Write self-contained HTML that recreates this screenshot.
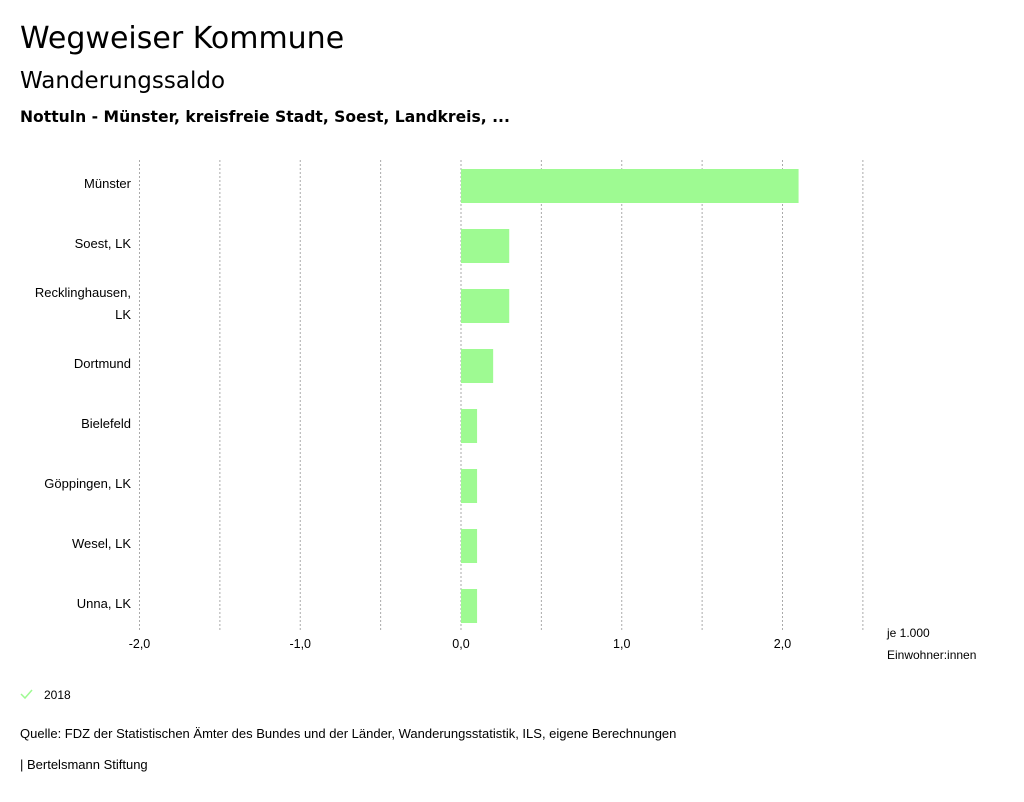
<!DOCTYPE html>
<html><head><meta charset="utf-8"><style>
body{margin:0;background:#fff;width:1024px;height:797px;overflow:hidden;font-family:"Liberation Sans",sans-serif;}
svg text{font-family:"Liberation Sans",sans-serif;}
svg text.t{font-family:"DejaVu Sans",sans-serif;}
</style></head><body>
<svg width="1024" height="797">
<text class="t" x="20" y="48" font-size="30" fill="#000">Wegweiser Kommune</text>
<text class="t" x="20" y="88" font-size="23" fill="#000">Wanderungssaldo</text>
<text class="t" x="20" y="122" font-size="15.6" font-weight="bold" fill="#000">Nottuln - Münster, kreisfreie Stadt, Soest, Landkreis, ...</text>
<g id="grid"></g><g id="bars"></g><g id="labels"></g><g id="ticks"></g>
<text x="887" y="637" font-size="12">je 1.000</text>
<text x="887" y="659" font-size="12">Einwohner:innen</text>
<path d="M21 694 l4 4 l7 -8" stroke="#9efa92" stroke-width="1.5" fill="none"/>
<text x="44" y="699" font-size="12">2018</text>
<text x="20" y="738" font-size="13">Quelle: FDZ der Statistischen Ämter des Bundes und der Länder, Wanderungsstatistik, ILS, eigene Berechnungen</text>
<text x="20" y="769" font-size="13">| Bertelsmann Stiftung</text>
</svg>
<script>
const categories=[["Münster"],["Soest, LK"],["Recklinghausen,","LK"],["Dortmund"],["Bielefeld"],["Göppingen, LK"],["Wesel, LK"],["Unna, LK"]];
const values=[2.1,0.3,0.3,0.2,0.1,0.1,0.1,0.1];
const tickValues=[-2,-1,0,1,2];
const tickLabels=["-2,0","-1,0","0,0","1,0","2,0"];
const gridValues=[-2,-1.5,-1,-0.5,0,0.5,1,1.5,2,2.5];
const NS="http://www.w3.org/2000/svg";
const x=v=>461+v*160.75;
const top0=156,band=60;
const y=i=>top0+i*band;
function mk(t,a,p){const e=document.createElementNS(NS,t);for(const k in a)e.setAttribute(k,a[k]);document.getElementById(p).appendChild(e);return e;}
gridValues.forEach(v=>{const l=mk('line',{x1:x(v),x2:x(v),y1:160,y2:632,stroke:'#aaa','stroke-dasharray':'2,2','stroke-width':1},'grid');

});
values.forEach((v,i)=>{const r=mk('rect',{x:Math.min(x(0),x(v)),y:y(i)+13,width:Math.abs(x(v)-x(0)),height:34,fill:'#9efa92'},'bars');


const lines=categories[i];
lines.forEach((s,j)=>{const t=mk('text',{x:131,y:y(i)+32+(j-(lines.length-1)/2)*22,'font-size':13,'text-anchor':'end'},'labels');t.textContent=s;

});});
tickValues.forEach((v,i)=>{const t=mk('text',{x:x(v),y:648,'font-size':12.5,'text-anchor':'middle'},'ticks');t.textContent=tickLabels[i];

});
</script>
</body></html>
